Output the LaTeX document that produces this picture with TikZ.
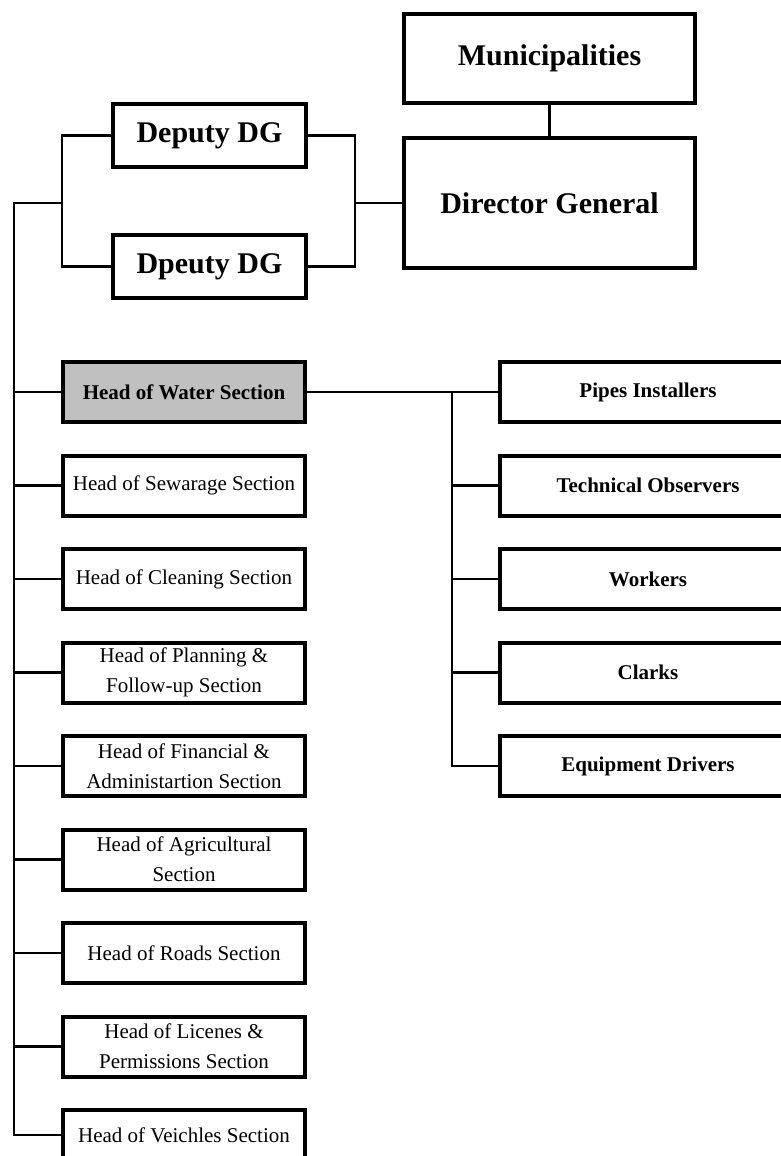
\documentclass[tikz,border=0pt]{standalone}
\usepackage{fontspec}
\setmainfont{Liberation Serif}
\definecolor{boxgray}{HTML}{C0C0C0}
\tikzset{
  x=1pt, y=-1pt,
  unit/.style={draw, line width=4pt, rectangle, inner sep=0pt, align=center, fill=white},
  topbox/.style={unit, font=\fontsize{30}{36}\selectfont\bfseries},
  sectbox/.style={unit, minimum width=242pt, minimum height=60pt, font=\fontsize{21}{30}\selectfont},
  crewbox/.style={unit, minimum width=296pt, minimum height=60pt, font=\fontsize{21}{30}\selectfont\bfseries},
  link/.style={line width=2.6pt},
}
\begin{document}
\begin{tikzpicture}
\useasboundingbox (0,0) rectangle (781,1156);
\clip (0,0) rectangle (781,1156);

% top management
\node[topbox, minimum width=291pt, minimum height=89pt] (mun) at (549.5,58.5) {Municipalities};
\node[topbox, minimum width=291pt, minimum height=130pt] (dg) at (549.5,203) {Director General};
\node[topbox, minimum width=193pt, minimum height=63pt] (dep1) at (209.5,135.5) {Deputy DG};
\node[topbox, minimum width=193pt, minimum height=63pt] (dep2) at (209.5,266.5) {Dpeuty DG};

% sections
\node[sectbox, fill=boxgray, font=\fontsize{21}{30}\selectfont\bfseries] (water) at (184,392) {Head of Water Section};
\node[sectbox] (sew)  at (184,485.5) {Head of Sewarage Section};
\node[sectbox] (clean) at (184,579) {Head of Cleaning Section};
\node[sectbox] (plan) at (184,672.5) {Head of Planning \&\\Follow-up Section};
\node[sectbox] (fin)  at (184,766) {Head of Financial \&\\Administartion Section};
\node[sectbox] (agri) at (184,859.5) {Head of Agricultural\\Section};
\node[sectbox] (roads) at (184,953) {Head of Roads Section};
\node[sectbox] (lic)  at (184,1046.5) {Head of Licenes \&\\Permissions Section};
\node[sectbox, minimum height=50pt] (veh) at (184,1135) {Head of Veichles Section};

% water section crews
\node[crewbox] (pipes) at (648,392) {Pipes Installers};
\node[crewbox] (tech)  at (648,485.5) {Technical Observers};
\node[crewbox] (work)  at (648,579) {Workers};
\node[crewbox] (clark) at (648,672.5) {Clarks};
\node[crewbox] (equip) at (648,766) {Equipment Drivers};

% connectors
\draw[link] (mun.south) -- (dg.north);
\coordinate (bl) at (62,203);
\coordinate (br) at (355,203);
\coordinate (spine) at (14,203);
\draw[link] (dep1.west) -| (bl) |- (dep2.west);
\draw[link] (dep1.east) -| (br) |- (dep2.east);
\draw[link] (br) -- (dg.west);
\draw[link] (bl) -- (spine) |- (veh.west);
\foreach \n in {water,sew,clean,plan,fin,agri,roads,lic}
  \draw[link] (\n.west) -- (spine |- \n.west);

\coordinate (rspine) at (452,392);
\draw[link] (water.east) -- (pipes.west);
\draw[link] (rspine) |- (equip.west);
\foreach \n in {tech,work,clark}
  \draw[link] (\n.west) -- (rspine |- \n.west);
\end{tikzpicture}
\end{document}
